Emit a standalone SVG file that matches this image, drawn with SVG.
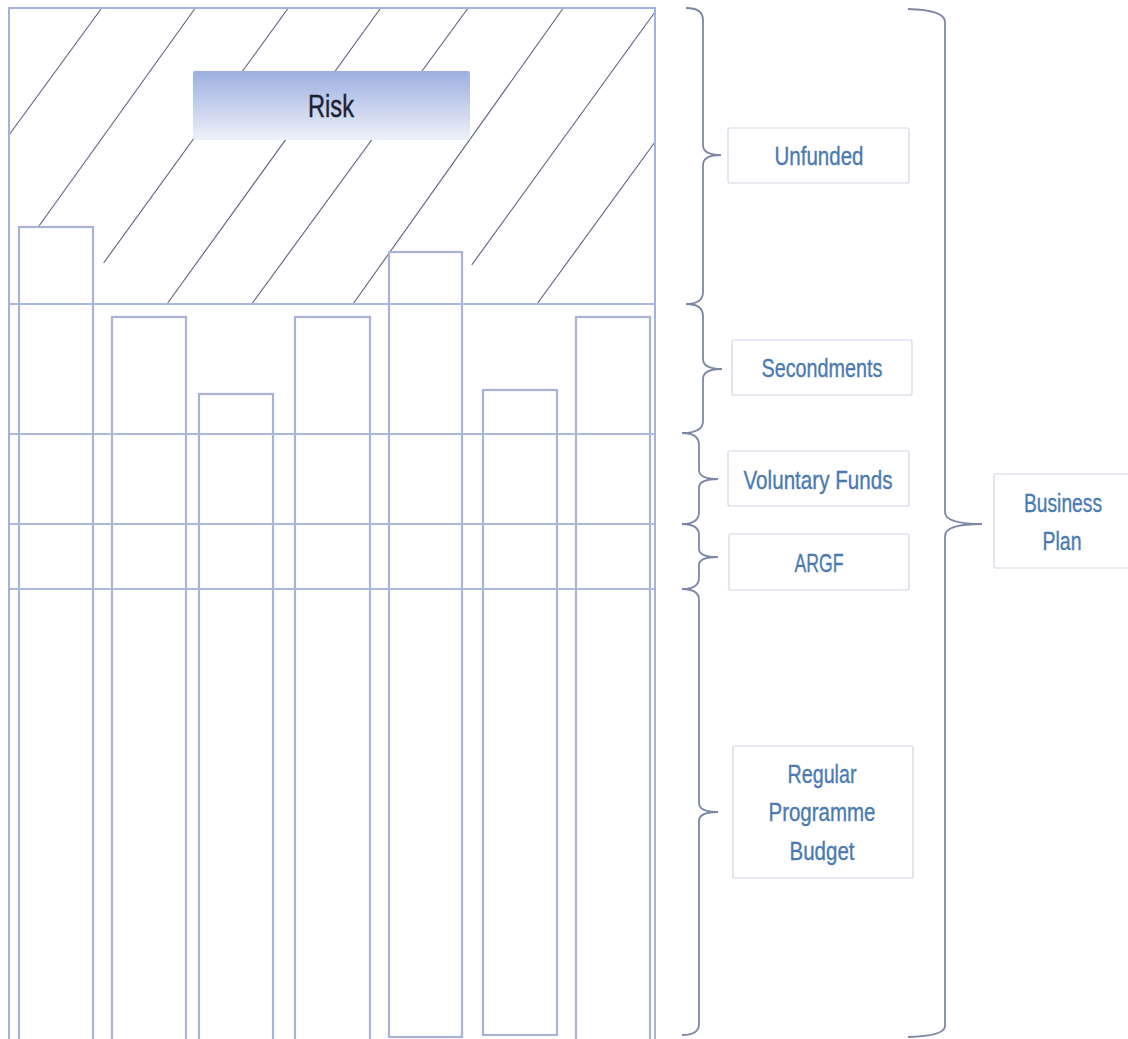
<svg xmlns="http://www.w3.org/2000/svg" width="1128" height="1039" viewBox="0 0 1128 1039">
<defs>
<linearGradient id="riskGrad" x1="0" y1="0" x2="0" y2="1">
<stop offset="0" stop-color="#9cafe0"/>
<stop offset="1" stop-color="#eef1f9"/>
</linearGradient>
<style>
.hatch{stroke:#56627e;stroke-width:1.1;fill:none}
.bar{fill:#ffffff;stroke:#a9b4d4;stroke-width:2.2}
.band{stroke:#acb8dc;stroke-width:2;fill:none}
.outer{fill:none;stroke:#a3b3e0;stroke-width:2}
.brace{fill:none;stroke:#7c88a6;stroke-width:1.8}
.lbox{fill:#ffffff;stroke:#cfd6e5;stroke-width:1.2}
.ltxt{font-family:"Liberation Sans",Arial,sans-serif;font-size:26px;fill:#4a7ab0;stroke:#4a7ab0;stroke-width:0.35;text-anchor:middle}
.risk{font-family:"Liberation Sans",Arial,sans-serif;font-size:31px;fill:#1b2233;stroke:#1b2233;stroke-width:0.4;text-anchor:middle}
</style>
</defs>
<rect x="0" y="0" width="1128" height="1039" fill="#ffffff"/>

<g id="chart">
<g id="hatching">
<line class="hatch" x1="101" y1="9" x2="9" y2="135"/>
<line class="hatch" x1="194.6" y1="9" x2="39" y2="226"/>
<line class="hatch" x1="287.6" y1="9" x2="103.6" y2="263"/>
<line class="hatch" x1="380" y1="9" x2="167" y2="304"/>
<line class="hatch" x1="467.4" y1="9" x2="251.7" y2="304"/>
<line class="hatch" x1="562.6" y1="9" x2="353" y2="304"/>
<line class="hatch" x1="655" y1="12" x2="471.7" y2="265"/>
<line class="hatch" x1="655" y1="142" x2="537" y2="304"/>
</g>
<g id="bars">
<rect class="bar" x="19" y="227" width="74" height="830"/>
<rect class="bar" x="112" y="317" width="74" height="740"/>
<rect class="bar" x="199" y="394" width="74" height="660"/>
<rect class="bar" x="295" y="317" width="75" height="740"/>
<rect class="bar" x="389" y="252" width="73" height="785"/>
<rect class="bar" x="483" y="390" width="74" height="645"/>
<rect class="bar" x="576" y="317" width="74" height="740"/>
</g>
<g id="bands">
<line class="band" x1="8" y1="304" x2="655" y2="304"/>
<line class="band" x1="8" y1="434" x2="655" y2="434"/>
<line class="band" x1="8" y1="524" x2="655" y2="524"/>
<line class="band" x1="8" y1="589" x2="655" y2="589"/>
</g>
<rect class="outer" x="9" y="8" width="646" height="1040"/>
</g>

<g id="risk">
<rect x="193" y="71" width="277" height="69" rx="2" fill="url(#riskGrad)"/>
<text class="risk" x="331" y="117" textLength="46" lengthAdjust="spacingAndGlyphs">Risk</text>
</g>

<g id="connectors">
<path class="brace" d="M686,8 Q703,8 703,20 L703,145 Q703,155 721,155 Q703,155 703,165 L703,292 Q703,304 686,304"/>
<path class="brace" d="M686,304 Q703,304 703,316 L703,359 Q703,369 722,369 Q703,369 703,379 L703,421 Q703,433 682,433"/>
<path class="brace" d="M682,433 Q699,433 699,445 L699,470 Q699,479 718,479 Q699,479 699,488 L699,512 Q699,524 682,524"/>
<path class="brace" d="M682,524 Q699,524 699,535 L699,549 Q699,557 718,557 Q699,557 699,565 L699,578 Q699,589 682,589"/>
<path class="brace" d="M682,589 Q699,589 699,600 L699,803 Q699,812 718,812 Q699,812 699,821 L699,1024 Q699,1035 682,1035"/>
<path class="brace" d="M908,9 Q945,10 945,22 L945,512 Q945,524 982,524 Q945,524 945,536 L945,1026 Q945,1036 908,1037"/>
</g>

<g id="unfunded">
<rect class="lbox" x="728" y="128" width="181" height="55" rx="2"/>
<text class="ltxt" x="819" y="165" textLength="89" lengthAdjust="spacingAndGlyphs">Unfunded</text>
</g>
<g id="secondments">
<rect class="lbox" x="732" y="340" width="180" height="55" rx="2"/>
<text class="ltxt" x="822" y="377" textLength="121" lengthAdjust="spacingAndGlyphs">Secondments</text>
</g>
<g id="voluntary-funds">
<rect class="lbox" x="728" y="451" width="181" height="55" rx="2"/>
<text class="ltxt" x="818" y="489" textLength="149" lengthAdjust="spacingAndGlyphs">Voluntary Funds</text>
</g>
<g id="argf">
<rect class="lbox" x="729" y="534" width="180" height="56" rx="2"/>
<text class="ltxt" x="819" y="572" textLength="49" lengthAdjust="spacingAndGlyphs">ARGF</text>
</g>
<g id="regular-programme-budget">
<rect class="lbox" x="733" y="746" width="180" height="132" rx="2"/>
<text class="ltxt" x="822" y="783" textLength="69" lengthAdjust="spacingAndGlyphs">Regular</text>
<text class="ltxt" x="822" y="821" textLength="107" lengthAdjust="spacingAndGlyphs">Programme</text>
<text class="ltxt" x="822" y="860" textLength="65" lengthAdjust="spacingAndGlyphs">Budget</text>
</g>
<g id="business-plan">
<rect class="lbox" x="994" y="474" width="140" height="94" rx="2"/>
<text class="ltxt" x="1063" y="512" textLength="78" lengthAdjust="spacingAndGlyphs">Business</text>
<text class="ltxt" x="1062" y="550" textLength="39" lengthAdjust="spacingAndGlyphs">Plan</text>
</g>
</svg>
